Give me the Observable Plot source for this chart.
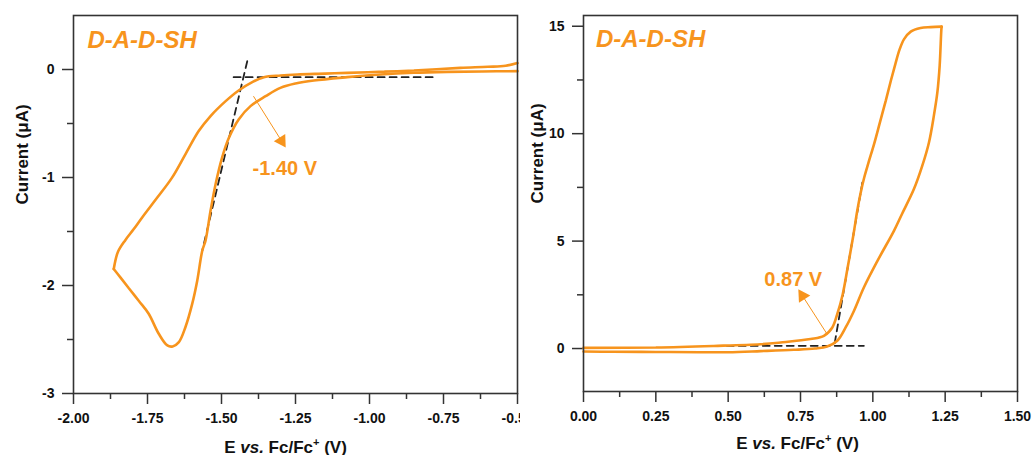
<!DOCTYPE html>
<html><head><meta charset="utf-8">
<script src="https://cdn.jsdelivr.net/npm/d3@7"></script>
<script src="https://cdn.jsdelivr.net/npm/@observablehq/plot@0.6"></script>
<style>
html,body{margin:0;padding:0;background:#fff;}
#wrap{display:flex;width:1034px;height:455px;}
#wrap svg{overflow:visible;}
</style></head><body><div id="wrap"></div>
<script>
// ---------- data: reduction (left panel) ----------
const redForwardE = [-0.50,-0.62,-0.737,-0.85,-0.963,-1.075,-1.188,-1.25,-1.301,-1.351,-1.402,-1.442,-1.475,-1.498,-1.520,-1.537,-1.554,-1.565,-1.582,-1.599,-1.622,-1.644,-1.665,-1.683,-1.712,-1.746,-1.779,-1.813,-1.841,-1.864];
const redForwardI = [-0.015,-0.018,-0.022,-0.03,-0.046,-0.071,-0.102,-0.13,-0.170,-0.247,-0.339,-0.462,-0.632,-0.816,-1.062,-1.308,-1.584,-1.678,-1.955,-2.170,-2.386,-2.524,-2.564,-2.555,-2.447,-2.262,-2.144,-2.025,-1.927,-1.847];
const redReverseE = [-1.864,-1.850,-1.825,-1.797,-1.768,-1.717,-1.667,-1.622,-1.577,-1.537,-1.486,-1.442,-1.396,-1.357,-1.30,-1.244,-1.15,-1.075,-0.95,-0.85,-0.693,-0.60,-0.54,-0.50];
const redReverseI = [-1.847,-1.69,-1.58,-1.48,-1.370,-1.186,-1.001,-0.785,-0.570,-0.431,-0.293,-0.194,-0.117,-0.071,-0.055,-0.046,-0.038,-0.031,-0.02,-0.009,0.015,0.025,0.035,0.06];
const redOnsetTangent = {E: [-1.413, -1.565], I: [0.077, -1.678]};
const redBaseline = {E: [-1.459, -0.770], I: [-0.071, -0.071]};
const redArrow = [-1.392, -0.247, -1.297, -0.662];
const redLabel = {E: -1.395, I: -0.92, text: "-1.40 V"};

// ---------- data: oxidation (right panel) ----------
const oxForwardE = [0,0.1,0.25,0.4,0.5,0.612,0.727,0.80,0.842,0.877,0.906,0.935,0.969,1.016,1.073,1.100,1.142,1.171,1.194,1.211,1.223,1.231,1.237,1.238];
const oxForwardI = [-0.14,-0.15,-0.16,-0.17,-0.17,-0.12,-0.06,0.0,0.09,0.36,0.98,1.76,2.84,4.08,5.48,6.24,7.42,8.51,9.59,10.84,11.92,13.17,14.88,14.98];
const oxReverseE = [1.238,1.200,1.165,1.131,1.108,1.092,1.078,1.062,1.045,1.025,1.005,0.985,0.970,0.958,0.946,0.933,0.913,0.896,0.877,0.860,0.831,0.785,0.681,0.612,0.45,0.25,0];
const oxReverseI = [14.98,14.96,14.92,14.75,14.40,13.90,13.25,12.45,11.55,10.55,9.55,8.65,7.95,7.25,6.40,5.30,3.77,2.53,1.60,0.98,0.59,0.44,0.28,0.20,0.12,0.05,0.03];
const oxOnsetTangent = {E: [0.964, 0.866], I: [7.73, 0.08]};
const oxBaseline = {E: [0.495, 0.969], I: [0.126, 0.126]};
const oxArrow = [0.842, 0.67, 0.757, 2.45];
const oxLabel = {E: 0.625, I: 3.23, text: "0.87 V"};

// ---------- axes / labels ----------
const redXTicks = [-2.00,-1.75,-1.50,-1.25,-1.00,-0.75,-0.50];
const redXMinor = [-1.875,-1.625,-1.375,-1.125,-0.875,-0.625];
const redYTicks = [-3,-2,-1,0];
const redYMinor = [-2.5,-1.5,-0.5];
const oxXTicks = [0,0.25,0.5,0.75,1.0,1.25,1.5];
const oxXMinor = [0.125,0.375,0.625,0.875,1.125,1.375];
const oxYTicks = [0,5,10,15];
const oxYMinor = [2.5,7.5,12.5];
const compoundName = "D-A-D-SH";
const xAxisLabel = "E vs. Fc/Fc+ (V)";
const yAxisLabel = "Current (μA)";

const ORANGE = "#F7941D";
const FONT = "'Liberation Sans', Arial, sans-serif";

function toRows(E, I, branch) { return E.map((e, i) => ({E: e, I: I[i], branch})); }

function panel(cfg) {
  const H = 455;
  const curve = toRows(cfg.fE, cfg.fI, "forward").concat(toRows(cfg.rE, cfg.rI, "reverse"));
  const pxX = (cfg.width - cfg.mL - cfg.mR) / (cfg.xDom[1] - cfg.xDom[0]);
  const pxY = (H - cfg.mT - cfg.mB) / (cfg.yDom[1] - cfg.yDom[0]);
  const a = cfg.arrow;
  const rot = Math.atan2((a[2] - a[0]) * pxX, (a[3] - a[1]) * pxY) * 180 / Math.PI;
  const axisStyle = {stroke: "#333", strokeWidth: 1.5, fontSize: 14, fontWeight: "bold", fill: "#111"};
  const chart = Plot.plot({
    width: cfg.width, height: H,
    marginLeft: cfg.mL, marginRight: cfg.mR, marginTop: cfg.mT, marginBottom: cfg.mB,
    x: {domain: cfg.xDom},
    y: {domain: cfg.yDom},
    style: {fontFamily: FONT, fontSize: "14px", fontWeight: "bold", color: "#111", background: cfg.bg, overflow: "visible"},
    marks: [
      Plot.axisX({ticks: cfg.xMinor, tickSize: 6, tickFormat: () => "", label: null, ...axisStyle}),
      Plot.axisX({ticks: cfg.xTicks, tickSize: 11, tickPadding: 9, tickFormat: d => d.toFixed(2), label: null, ...axisStyle}),
      Plot.axisY({ticks: cfg.yMinor, tickSize: 6, tickFormat: () => "", label: null, ...axisStyle}),
      Plot.axisY({ticks: cfg.yTicks, tickSize: 11, tickPadding: 8, tickFormat: d => String(d), label: null, ...axisStyle}),
      Plot.line(toRows(cfg.base.E, cfg.base.I), {x: "E", y: "I", stroke: "#222", strokeWidth: 1.8, strokeDasharray: "7,5"}),
      Plot.line(toRows(cfg.tan.E, cfg.tan.I), {x: "E", y: "I", stroke: "#222", strokeWidth: 1.8, strokeDasharray: "7,5"}),
      Plot.line(curve, {x: "E", y: "I", z: "branch", stroke: ORANGE, strokeWidth: 2.6, curve: "catmull-rom", strokeLinejoin: "miter"}),
      Plot.link([a], {x1: d => d[0], y1: d => d[1], x2: d => d[2], y2: d => d[3], stroke: ORANGE, strokeWidth: 1}),
      Plot.dot([a], {x: d => d[2], y: d => d[3], symbol: "triangle", r: 5, fill: ORANGE, stroke: "none", rotate: rot}),
      Plot.text([cfg.label], {x: "E", y: "I", text: "text", textAnchor: "start", lineAnchor: "middle", fill: ORANGE, fontSize: 20, fontWeight: "bold"}),
      Plot.text([compoundName], {x: cfg.nameAt[0], y: cfg.nameAt[1], text: d => d, textAnchor: "start", lineAnchor: "middle", fill: ORANGE, fontSize: 24, fontWeight: "bold", fontStyle: "italic"}),
      Plot.text([xAxisLabel], {frameAnchor: "bottom", dy: cfg.xLabelDy, lineAnchor: "bottom", text: d => d, fontSize: 17, fontWeight: "bold", fill: "#111", dx: cfg.xLabelDx}),
      Plot.text([yAxisLabel], {frameAnchor: "left", dx: cfg.yLabelDx, rotate: -90, text: d => d, fontSize: 17, fontWeight: "bold", fill: "#111"}),
      Plot.frame({stroke: "#333", strokeWidth: 1.6})
    ]
  });
  // style the x label: italic "vs." and superscript "+"
  chart.querySelectorAll("text").forEach(t => {
    if (t.textContent === xAxisLabel) {
      t.textContent = "";
      const ns = "http://www.w3.org/2000/svg";
      const parts = [["E ", {}], ["vs.", {"font-style": "italic"}], [" Fc/Fc", {}], ["+", {"font-size": "11px", dy: "-7"}], [" (V)", {dy: "7"}]];
      for (const [s, attrs] of parts) {
        const ts = document.createElementNS(ns, "tspan");
        for (const k in attrs) ts.setAttribute(k, attrs[k]);
        ts.textContent = s;
        t.appendChild(ts);
      }
    }
  });
  return chart;
}

const wrap = document.getElementById("wrap");
const left = panel({
  width: 520, mL: 73, mR: 3, mT: 15, mB: 62, bg: "transparent",
  xDom: [-2, -0.5], yDom: [-3, 0.5],
  fE: redForwardE, fI: redForwardI, rE: redReverseE, rI: redReverseI,
  tan: redOnsetTangent, base: redBaseline, arrow: redArrow, label: redLabel,
  xTicks: redXTicks, xMinor: redXMinor, yTicks: redYTicks, yMinor: redYMinor,
  nameAt: [-1.953, 0.27], xLabelDy: 59, xLabelDx: -10, yLabelDx: -51
});
const right = panel({
  width: 514, mL: 63, mR: 17, mT: 15, mB: 64, bg: "#fff",
  xDom: [0, 1.5], yDom: [-2, 15.5],
  fE: oxForwardE, fI: oxForwardI, rE: oxReverseE, rI: oxReverseI,
  tan: oxOnsetTangent, base: oxBaseline, arrow: oxArrow, label: oxLabel,
  xTicks: oxXTicks, xMinor: oxXMinor, yTicks: oxYTicks, yMinor: oxYMinor,
  nameAt: [0.043, 14.37], xLabelDy: 57, xLabelDx: -3, yLabelDx: -46
});
right.style.position = "relative";
right.style.zIndex = "2";
wrap.appendChild(left);
wrap.appendChild(right);
</script></body></html>
